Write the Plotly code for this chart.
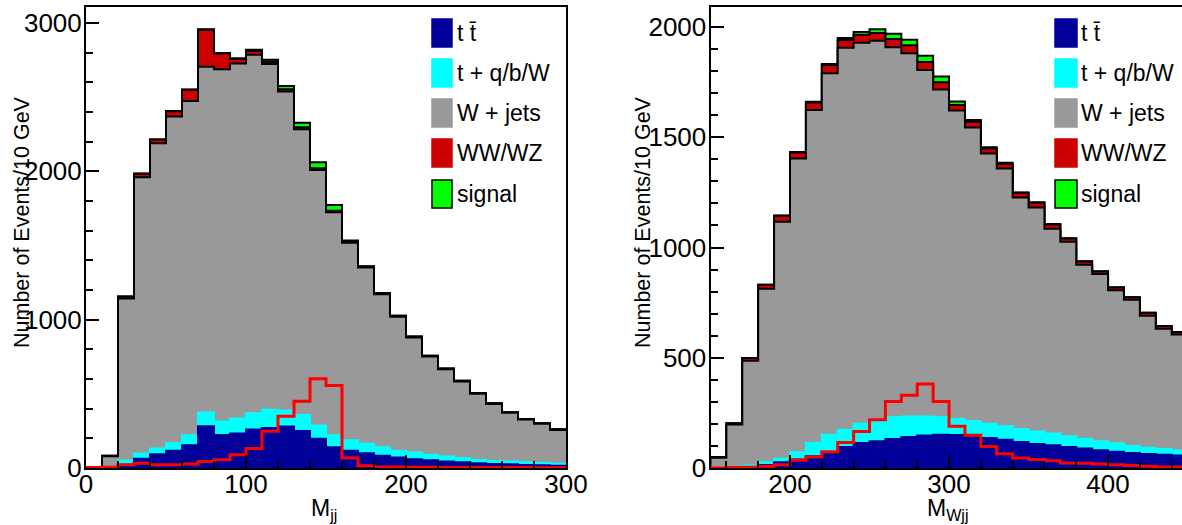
import plotly.graph_objects as go

W, H = 1182, 525
FONT = "Liberation Sans, Arial, Helvetica, sans-serif"

# ---------------- data: left panel (M_jj, 10 GeV bins 0..300) ----------------
edges_l = list(range(0, 310, 10))
ttbar_l = [0, 0, 22, 63, 92, 117, 153, 282, 223, 232, 259, 270, 279, 250, 198,
           140, 117, 99, 83, 70, 59, 52, 43, 38, 32, 27, 25, 20, 18, 16]
tq_l = [0, 0, 28, 34, 39, 52, 68, 92, 90, 101, 110, 122, 108, 108, 88,
        81, 70, 65, 57, 47, 45, 38, 34, 30, 22, 20, 18, 18, 16, 13]
wjets_l = [0, 80, 1092, 1864, 2058, 2200, 2254, 2331, 2376, 2394, 2417, 2331, 2151, 1926, 1723,
           1504, 1331, 1187, 1032, 903, 776, 661, 588, 515, 446, 385, 329, 289, 264, 228]
ww_l = [0, 2, 14, 23, 25, 37, 75, 250, 105, 30, 25, 16, 15, 13, 12,
        10, 10, 8, 8, 7, 7, 6, 6, 5, 5, 5, 4, 4, 4, 4]
sig_l = [0, 0, 1, 2, 1, 1, 2, 3, 4, 6, 9, 14, 22, 30, 40,
         38, 5, 1, 0, 0, 0, 0, 0, 0, 0, 0, 0, 0, 0, 0]
sigline_l = [3, 5, 22, 32, 22, 22, 27, 43, 56, 90, 131, 248, 349, 450, 601,
             556, 68, 16, 7, 6, 5, 5, 4, 4, 3, 3, 3, 3, 2, 2]

# ---------------- data: right panel (M_Wjj, 10 GeV bins 150..450) ----------------
edges_r = list(range(150, 460, 10))
ttbar_r = [0, 0, 5, 14, 26, 38, 53, 74, 95, 113, 121, 132, 141, 147, 151,
           150, 144, 136, 128, 118, 109, 103, 95, 88, 80, 74, 68, 63, 60, 57]
tq_r = [0, 2, 6, 12, 16, 33, 60, 77, 79, 88, 98, 98, 93, 87, 79,
        72, 68, 65, 61, 59, 57, 53, 49, 45, 41, 38, 32, 29, 26, 22]
wjets_r = [46, 195, 476, 787, 1075, 1333, 1511, 1639, 1732, 1728, 1719, 1679, 1647, 1571, 1487,
           1399, 1333, 1226, 1170, 1050, 1016, 929, 882, 789, 759, 694, 663, 599, 546, 526]
ww_r = [4, 6, 12, 18, 27, 27, 34, 38, 35, 36, 35, 37, 36, 36, 33,
        26, 25, 22, 21, 21, 21, 20, 15, 15, 11, 13, 11, 13, 12, 12]
sig_r = [0, 0, 0, 0, 1, 2, 3, 5, 9, 13, 17, 24, 25, 29, 26,
         15, 9, 6, 4, 2, 2, 2, 1, 1, 1, 1, 1, 0, 0, 0]
sigline_r = [0, 2, 3, 8, 15, 35, 50, 73, 116, 166, 219, 302, 330, 381, 302,
             189, 148, 98, 65, 45, 38, 33, 23, 21, 18, 15, 11, 8, 5, 5]

labels = ["t t\u0304", "t + q/b/W", "W + jets", "WW/WZ", "signal"]
C_TT = "#000099"
C_TQ = "#00ffff"
C_WJ = "#999999"
C_WW = "#cc0000"
C_SIG = "#00ff00"
C_LINE = "#ff0000"

fig = go.Figure()


def cum(*arrs):
    return [sum(v) for v in zip(*arrs)]


def step(edges, vals):
    xs = [edges[0]] + list(edges)
    ys = [0] + list(vals) + [vals[-1]]
    return xs, ys


def add_panel(edges, tt, tq, wj, ww, sg, sline, xa, ya):
    levels = [
        (cum(tt, tq, wj, ww, sg), C_SIG, "black"),
        (cum(tt, tq, wj, ww), C_WW, "black"),
        (cum(tt, tq, wj), C_WJ, "black"),
        (cum(tt, tq), C_TQ, C_TQ),
        (list(tt), C_TT, C_TT),
    ]
    for vals, fc, lc in levels:
        xs, ys = step(edges, vals)
        fig.add_trace(go.Scatter(x=xs, y=ys, mode="lines", line_shape="hv",
                                 fill="tozeroy", fillcolor=fc,
                                 line=dict(color=lc, width=2),
                                 xaxis=xa, yaxis=ya, showlegend=False,
                                 hoverinfo="skip"))
    xs, ys = step(edges, sline)
    fig.add_trace(go.Scatter(x=xs, y=ys, mode="lines", line_shape="hv",
                             line=dict(color=C_LINE, width=3),
                             xaxis=xa, yaxis=ya, showlegend=False,
                             hoverinfo="skip"))


add_panel(edges_l, ttbar_l, tq_l, wjets_l, ww_l, sig_l, sigline_l, "x", "y")
add_panel(edges_r, ttbar_r, tq_r, wjets_r, ww_r, sig_r, sigline_r, "x2", "y2")


def px(x):
    return x / W


def py(y):
    return (H - y) / H


ydom = [py(468), py(7)]
axis_common = dict(showgrid=False, zeroline=False, showline=True, linecolor="black",
                   linewidth=2, ticks="inside", ticklen=13, tickwidth=2, tickcolor="black",
                   automargin=False,
                   tickfont=dict(family=FONT, size=26, color="black"))
xminor = dict(dtick=20, ticks="inside", ticklen=7, tickwidth=2, tickcolor="black", showgrid=False)

fig.update_layout(
    width=W, height=H,
    margin=dict(l=0, r=0, t=0, b=0, autoexpand=False),
    paper_bgcolor="white", plot_bgcolor="white",
    xaxis=dict(domain=[px(86), px(566)], range=[0, 300], tickvals=[0, 100, 200, 300],
               mirror=True, anchor="y", ticklabelstandoff=-8, minor=xminor,
               **axis_common),
    yaxis=dict(domain=ydom, range=[0, 3108], tickvals=[0, 1000, 2000, 3000],
               mirror=True, anchor="x", ticklabelstandoff=-3,
               minor=dict(dtick=200, ticks="inside", ticklen=7, tickwidth=2, tickcolor="black",
                          showgrid=False),
               **axis_common),
    xaxis2=dict(domain=[px(710.5), 1.0], range=[150, 446.5], tickvals=[200, 300, 400],
                mirror=True, anchor="y2", ticklabelstandoff=-8, minor=xminor,
                **axis_common),
    yaxis2=dict(domain=ydom, range=[0, 2091], tickvals=[0, 500, 1000, 1500, 2000],
                mirror=False, anchor="x2", ticklabelstandoff=-3,
                minor=dict(dtick=100, ticks="inside", ticklen=7, tickwidth=2, tickcolor="black",
                           showgrid=False),
                **axis_common),
)

annotations = []
shapes = []

# axis titles
for xc in (22, 643):
    annotations.append(dict(text="Number of Events/10 GeV", x=px(xc), y=py(222),
                            xref="paper", yref="paper", showarrow=False, textangle=-90,
                            xanchor="center", yanchor="middle",
                            font=dict(family=FONT, size=21.5, color="black")))
annotations.append(dict(text="M<sub>jj</sub>", x=px(324), y=py(509), xref="paper", yref="paper",
                        showarrow=False, xanchor="center", yanchor="middle",
                        font=dict(family=FONT, size=23, color="black")))
annotations.append(dict(text="M<sub>Wjj</sub>", x=px(948), y=py(509), xref="paper", yref="paper",
                        showarrow=False, xanchor="center", yanchor="middle",
                        font=dict(family=FONT, size=23, color="black")))

# legends
leg_colors = [C_TT, C_TQ, C_WJ, C_WW, C_SIG]
leg_y = [33, 73, 113, 153, 194]
for bx0, bx1, tx in ((432, 452, 455), (1055, 1077, 1079)):
    for lab, col, yc in zip(labels, leg_colors, leg_y):
        border = "black" if lab == "signal" else col
        shapes.append(dict(type="rect", xref="paper", yref="paper",
                           x0=px(bx0), x1=px(bx1), y0=py(yc + 14), y1=py(yc - 14),
                           fillcolor=col, line=dict(color=border, width=1.5)))
        annotations.append(dict(text=lab, x=px(tx), y=py(yc), xref="paper", yref="paper",
                                showarrow=False, xanchor="left", yanchor="middle",
                                font=dict(family=FONT, size=23, color="black")))

fig.update_layout(annotations=annotations, shapes=shapes)
fig.write_html("out.html")
